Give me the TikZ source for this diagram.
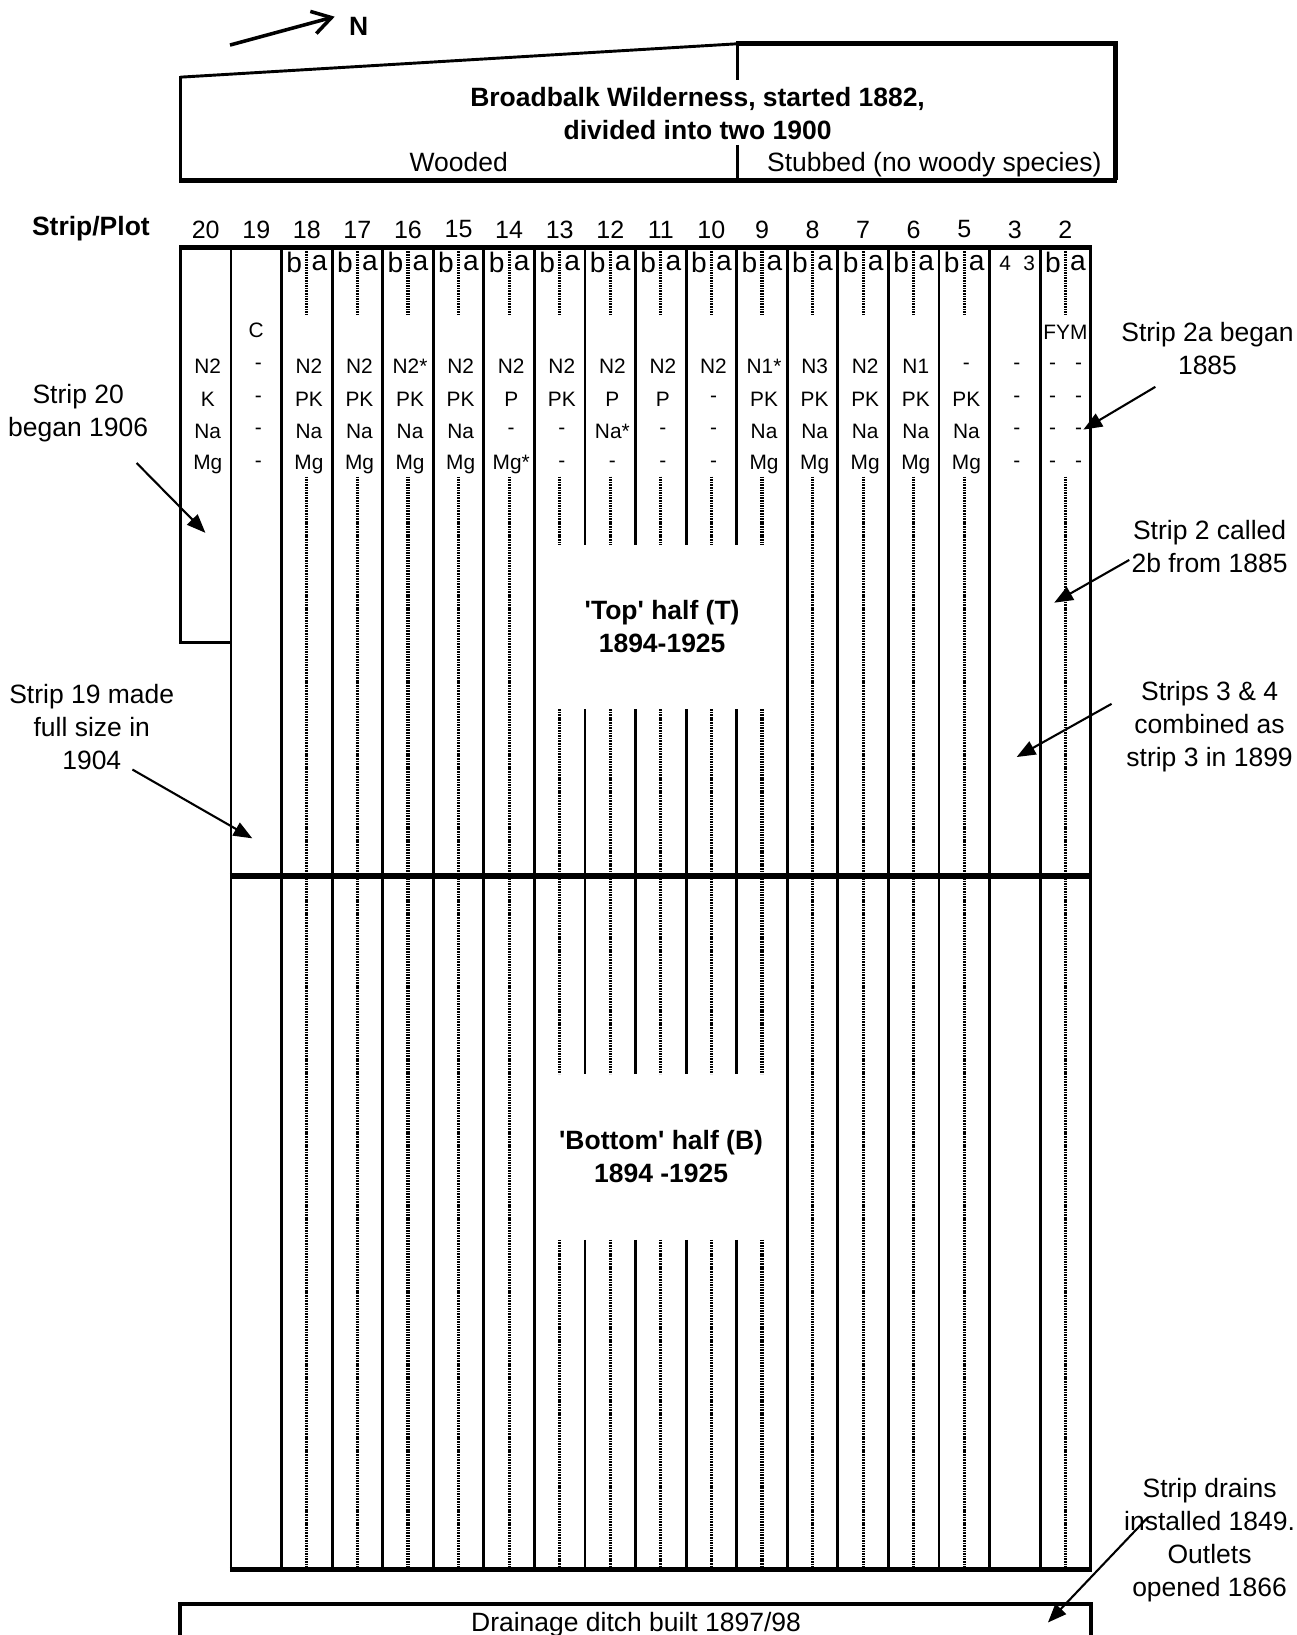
\documentclass[tikz,border=0pt]{standalone}
\usepackage{fontspec}
\setmainfont{Liberation Sans}[Ligatures=TeXOff]
\usetikzlibrary{arrows.meta}
\tikzset{
  thinline/.style={line width=1.4pt},
  thickline/.style={line width=2.5pt},
  dotline/.style={line width=1.5pt, dash pattern=on 0.8pt off 0.45pt},
  lbl/.style={font=\fontsize{12.7}{15.75}\selectfont, inner sep=0pt, align=center},
  blbl/.style={font=\fontsize{12.7}{15.75}\selectfont\bfseries, inner sep=0pt, align=center},
  cell/.style={font=\fontsize{10}{12}\selectfont, inner sep=0pt},
  colnum/.style={font=\fontsize{12}{14}\selectfont, inner sep=0pt},
  ablbl/.style={font=\fontsize{13.5}{15}\selectfont, inner sep=0pt},
  small/.style={font=\fontsize{10}{12}\selectfont, inner sep=0pt},
  pointer/.style={line width=1pt, -{Triangle[length=9pt,width=7pt]}},
}
\begin{document}
\begin{tikzpicture}[x=0.5pt,y=-0.5pt]
\useasboundingbox (0,0) rectangle (1243,1568);
% ---------- north arrow ----------
\coordinate (nstart) at (220.6,43.2);
\coordinate (ntip) at (321,16);
\draw[line width=1.7pt, -{Straight Barb[length=9pt,width=11pt]}] (nstart) -- (ntip);
\node[blbl] (north) at (344,25) {N};
% ---------- header ----------
\draw[thinline] (173,74) -- (707,42);
\draw[line width=1.6pt] (173,73) -- (173,173);
\draw[thickline] (706,42) -- (1070,42) -- (1070,173);
\draw[line width=2.3pt] (172,173) -- (1071,173);
\draw[thinline] (707,42) -- (707,77);
\draw[thinline] (707,139) -- (707,172);
\node[blbl] (title) at (669,109) {Broadbalk Wilderness, started 1882,\\divided into two 1900};
\node[lbl, anchor=base] (wooded) at (440,164) {Wooded};
\node[lbl, anchor=base] (stubbed) at (896,164) {Stubbed (no woody species)};
% ---------- strip labels ----------
\node[blbl, anchor=east] (striplot) at (144,219) {Strip/Plot};
\foreach \lab [count=\i from 0] in {20,19,18,17,16,15,14,13,12,11,10,9,8,7,6,5,3,2}
  \node[colnum] (num\i) at ({197.25+48.5*\i},220) {\lab};
% ---------- solid column lines ----------
\draw[thinline] (173,237) -- (173,616.5) -- (222,616.5);
\draw[thinline] (221.5,237) -- (221.5,1505);
\foreach \k in {2,...,7,12,13,14,15,16,17}
  \draw[thinline] ({173+48.5*\k},237) -- ({173+48.5*\k},1505);
\foreach \k in {8,...,11} {
  \draw[thinline] ({173+48.5*\k},237) -- ({173+48.5*\k},523);
  \draw[thinline] ({173+48.5*\k},680) -- ({173+48.5*\k},1030);
  \draw[thinline] ({173+48.5*\k},1189) -- ({173+48.5*\k},1505);
}
\draw[line width=1.5pt] (1046,237) -- (1046,1505);
% ---------- dotted centre lines ----------
\foreach \c in {2,...,15,17}
  \draw[dotline] ({197.25+48.5*\c},241) -- ({197.25+48.5*\c},302);
\foreach \c in {2,...,6,12,13,14,15,17}
  \draw[dotline] ({197.25+48.5*\c},457) -- ({197.25+48.5*\c},1505);
\foreach \c in {7,...,11} {
  \draw[dotline] ({197.25+48.5*\c},457) -- ({197.25+48.5*\c},523);
  \draw[dotline] ({197.25+48.5*\c},680) -- ({197.25+48.5*\c},1030);
  \draw[dotline] ({197.25+48.5*\c},1189) -- ({197.25+48.5*\c},1505);
}
% ---------- thick horizontal lines ----------
\draw[thickline] (172,237.5) -- (1047,237.5);
\draw[thickline] (220.5,840) -- (1047,840);
\draw[thickline] (220.5,1505.5) -- (1047,1505.5);
% ---------- b / a labels ----------
\foreach \c in {2,...,15,17} {
  \node[ablbl] (b\c) at ({197.25+48.5*\c-12},252) {b};
  \node[ablbl] (a\c) at ({197.25+48.5*\c+12},252) {a};
}
\node[small] (p4) at (964,253) {4};
\node[small] (p3) at (987,253) {3};
\node[cell] (ctrl) at (245.75,317) {C};
\node[cell] (fym) at (1021.75,319) {FYM};
% ---------- treatment cells ----------
\foreach \c/\n/\k/\na/\mg in {0/N2/K/Na/Mg, 1/-/-/-/-, 2/N2/PK/Na/Mg, 3/N2/PK/Na/Mg,
    4/N2*/PK/Na/Mg, 5/N2/PK/Na/Mg, 6/N2/P/-/Mg*, 7/N2/PK/-/-, 8/N2/P/Na*/-,
    9/N2/P/-/-, 10/N2/-/-/-, 11/N1*/PK/Na/Mg, 12/N3/PK/Na/Mg, 13/N2/PK/Na/Mg,
    14/N1/PK/Na/Mg, 15/-/PK/Na/Mg, 16/-/-/-/-} {
  \node[cell] (cn\c) at ({199.25+48.5*\c},351) {\n};
  \node[cell] (ck\c) at ({199.25+48.5*\c},382.5) {\k};
  \node[cell] (cna\c) at ({199.25+48.5*\c},414) {\na};
  \node[cell] (cmg\c) at ({199.25+48.5*\c},445) {\mg};
}
\foreach \r/\y in {1/351,2/382.5,3/414,4/445} {
  \node[cell] (sb\r) at (1009.5,\y) {-};
  \node[cell] (sa\r) at (1034.5,\y) {-};
}
% ---------- half labels ----------
\node[blbl] (tophalf) at (635,601) {'Top' half (T)\\1894-1925};
\node[blbl] (bothalf) at (634,1109) {'Bottom' half (B)\\1894 -1925};
% ---------- drainage ditch ----------
\draw[line width=2pt] (173,1568) -- (173,1538) -- (1046,1538) -- (1046,1568);
\node[lbl, anchor=base] (ditch) at (610,1565) {Drainage ditch built 1897/98};
% ---------- annotations ----------
\node[lbl] (s20) at (75,396) {Strip 20\\began 1906};
\coordinate (s20a) at (131,444);
\coordinate (s20t) at (197,511);
\draw[pointer] (s20a) -- (s20t);
\node[lbl] (s19) at (88,697) {Strip 19 made\\full size in\\1904};
\coordinate (s19a) at (127,738);
\coordinate (s19t) at (242,804);
\draw[pointer] (s19a) -- (s19t);
\node[lbl] (s2a) at (1158,334) {Strip 2a began\\1885};
\coordinate (s2aa) at (1108,371);
\coordinate (s2at) at (1039,412);
\draw[pointer] (s2aa) -- (s2at);
\node[lbl] (s2b) at (1160,524) {Strip 2 called\\2b from 1885};
\coordinate (s2ba) at (1083,537);
\coordinate (s2bt) at (1011,578);
\draw[pointer] (s2ba) -- (s2bt);
\node[lbl] (s34) at (1160,697) {Strips 3 \& 4\\combined as\\strip 3 in 1899};
\coordinate (s34a) at (1066,675);
\coordinate (s34t) at (975,726);
\draw[pointer] (s34a) -- (s34t);
\node[lbl] (drains) at (1160,1477) {Strip drains\\installed 1849.\\Outlets\\opened 1866};
\coordinate (dra) at (1101,1455);
\coordinate (drt) at (1005,1556);
\draw[pointer] (dra) -- (drt);
\end{tikzpicture}
\end{document}
